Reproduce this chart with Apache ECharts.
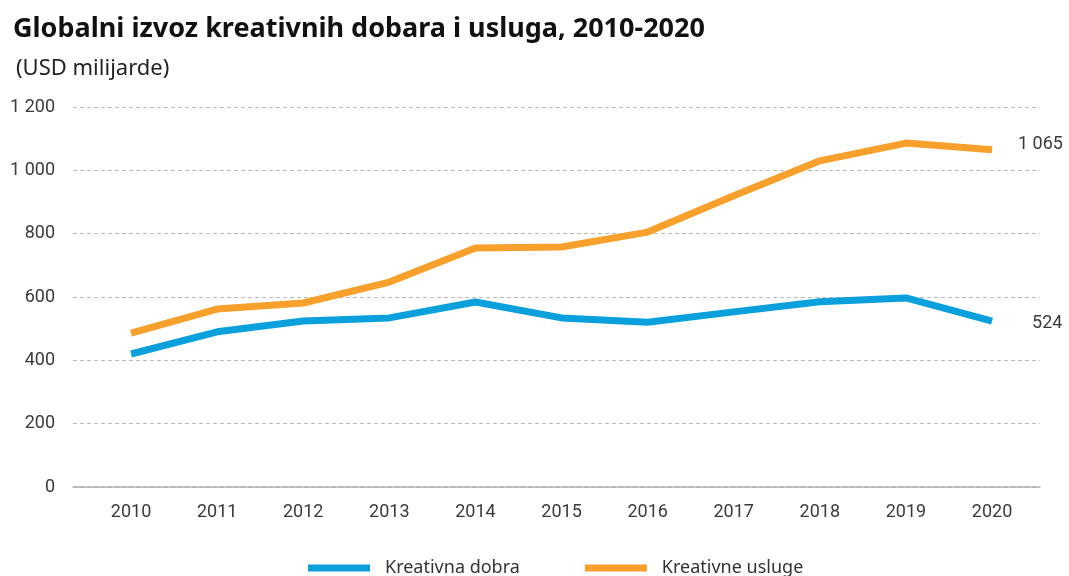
<!DOCTYPE html>
<html><head><meta charset="utf-8">
<script src="https://cdn.jsdelivr.net/npm/echarts@6/dist/echarts.min.js"></script>
<style>html,body{margin:0;padding:0;background:#fff}#c{width:1069px;height:576px}</style>
</head><body><div id="c"></div>
<script>
const years = [2010,2011,2012,2013,2014,2015,2016,2017,2018,2019,2020];
const kreativnaDobra = [420,490,524,534,584,534,520,553,585,597,524];
const kreativneUsluge = [486,562,581,647,755,758,805,920,1030,1086,1065];
const yTicks = [0,200,400,600,800,1000,1200];

const fmt = v => String(v).replace(/\B(?=(\d{3})+(?!\d))/g, ' ');
const axisFont = {fontFamily:'Roboto',fontSize:18,color:'#3a3a3a'};
const chart = echarts.init(document.getElementById('c'));
chart.setOption({
  animation:false,
  title:[
    {text:'Globalni izvoz kreativnih dobara i usluga, 2010-2020',left:8,top:11,
     textStyle:{fontFamily:'Noto Sans',fontWeight:'bold',fontSize:27,color:'#111'}},
    {text:'(USD milijarde)',left:11,top:53,
     textStyle:{fontFamily:'Noto Sans',fontWeight:'normal',fontSize:22,color:'#222'}}
  ],
  legend:{bottom:-6,left:303,itemWidth:62,itemHeight:7,itemGap:65,icon:'rect',
    textStyle:{fontFamily:'Noto Sans',fontSize:18,color:'#333',padding:[0,0,0,10]},
    data:['Kreativna dobra','Kreativne usluge']},
  grid:{left:73,right:29,top:107,bottom:89},
  xAxis:{type:'value',min:2009.326,max:2020.557,
    axisLine:{show:true,lineStyle:{color:'#b0b0b0',width:1.5}},
    axisTick:{show:false},splitLine:{show:false},
    axisLabel:Object.assign({customValues:years,formatter:v=>String(v),margin:16},axisFont)},
  yAxis:{type:'value',min:0,max:1200,interval:200,
    axisLine:{show:false},axisTick:{show:false},
    axisLabel:Object.assign({formatter:fmt,margin:18},axisFont),
    splitLine:{lineStyle:{type:[4,3],color:'#bbb',width:1}}},
  series:[
    {name:'Kreativna dobra',type:'line',data:years.map((y,i)=>[y,kreativnaDobra[i]]),
     symbol:'none',lineStyle:{width:7,color:'#0aa0dc',cap:'butt'},itemStyle:{color:'#0aa0dc'},
     endLabel:Object.assign({show:true,formatter:p=>fmt(p.value[1]),distance:40,offset:[0,2]},axisFont)},
    {name:'Kreativne usluge',type:'line',data:years.map((y,i)=>[y,kreativneUsluge[i]]),
     symbol:'none',lineStyle:{width:7,color:'#f8a02c',cap:'butt'},itemStyle:{color:'#f8a02c'},
     endLabel:Object.assign({show:true,formatter:p=>fmt(p.value[1]),distance:26,offset:[0,-5]},axisFont)}
  ]
});
</script></body></html>
